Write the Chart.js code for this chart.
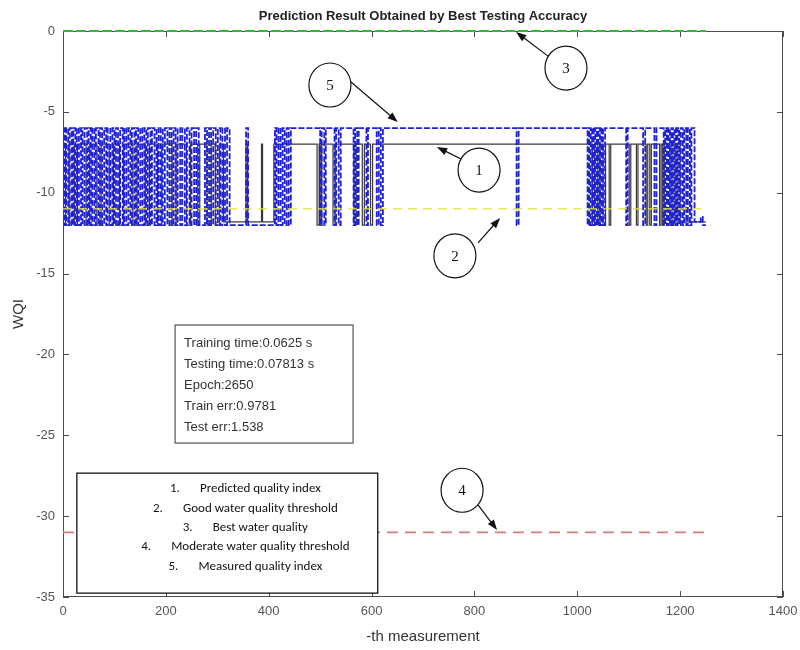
<!DOCTYPE html>
<html>
<head>
<meta charset="utf-8">
<script src="https://cdn.jsdelivr.net/npm/chart.js@4.4.0/dist/chart.umd.min.js"></script>
<style>
html, body { margin: 0; padding: 0; background: #fff; }
#wrap { width: 800px; height: 650px; }
</style>
</head>
<body>
<div id="wrap"><canvas id="wqiChart" width="800" height="650"></canvas></div>
<script>
// Measured quality index: x where the value changes, and the value from there on
const measuredX = [
    0, 3, 6, 10, 13, 17, 20, 24, 27, 31, 35, 38, 42, 47, 50, 54, 57, 61, 64, 69,
    72, 76, 80, 84, 87, 92, 96, 100, 103, 107, 111, 116, 119, 123, 127, 131, 134, 139, 142, 146,
    150, 154, 158, 162, 165, 170, 173, 178, 182, 186, 190, 194, 198, 203, 207, 211, 215, 219, 223, 228,
    232, 237, 241, 246, 250, 255, 259, 264, 276, 280, 284, 288, 292, 297, 301, 306, 310, 315, 319, 324,
    356, 360, 412, 415, 419, 423, 427, 431, 435, 439, 443, 500, 503, 508, 511, 528, 531, 536, 540, 565,
    568, 572, 575, 590, 593, 610, 614, 618, 622, 882, 886, 1020, 1023, 1026, 1029, 1032, 1035, 1038, 1041, 1044,
    1047, 1050, 1054, 1095, 1098, 1128, 1132, 1150, 1154, 1168, 1171, 1174, 1177, 1180, 1183, 1186, 1189, 1192, 1195, 1198,
    1201, 1205, 1208, 1212, 1215, 1219, 1222, 1228, 1240, 1244, 1250
];
const measuredY = [
    -6, -12, -6, -12, -6, -12, -6, -12, -6, -12, -6, -12, -6, -12, -6, -12, -6, -12, -6, -12,
    -6, -12, -6, -12, -6, -12, -6, -12, -6, -12, -6, -12, -6, -12, -6, -12, -6, -12, -6, -12,
    -6, -12, -6, -12, -6, -12, -6, -12, -6, -12, -6, -12, -6, -12, -6, -12, -6, -12, -6, -12,
    -6, -12, -6, -12, -6, -12, -6, -12, -6, -12, -6, -12, -6, -12, -6, -12, -6, -12, -6, -12,
    -6, -12, -6, -12, -6, -12, -6, -12, -6, -12, -6, -12, -6, -12, -6, -12, -6, -12, -6, -12,
    -6, -12, -6, -12, -6, -12, -6, -12, -6, -12, -6, -12, -6, -12, -6, -12, -6, -12, -6, -12,
    -6, -12, -6, -12, -6, -12, -6, -12, -6, -12, -6, -12, -6, -12, -6, -12, -6, -12, -6, -12,
    -6, -12, -6, -12, -6, -12, -6, -11.8, -11.5, -12, -12
];

// Predicted quality index
const predictedX = [
    0, 5, 12, 22, 28, 45, 52, 66, 74, 90, 98, 110, 118, 136, 144, 160, 168, 184, 192, 212,
    220, 240, 248, 262, 266, 280, 288, 296, 304, 312, 356, 359, 386, 388, 410, 494, 498, 500, 503, 525,
    529, 566, 570, 582, 586, 598, 602, 1030, 1034, 1040, 1044, 1050, 1055, 1062, 1065, 1101, 1104, 1115, 1118, 1134,
    1137, 1141, 1144, 1160, 1163, 1166, 1169, 1180, 1184, 1190, 1194, 1200, 1250
];
const predictedY = [
    -7, -12, -7, -12, -7, -12, -7, -12, -7, -12, -7, -12, -7, -12, -7, -12, -7, -12, -7, -12,
    -7, -12, -7, -12, -7, -12, -7, -12, -7, -11.8, -7, -11.8, -7, -11.8, -7, -12, -7, -12, -7, -12,
    -7, -12, -7, -12, -7, -12, -7, -12, -7, -12, -7, -12, -7, -12, -7, -12, -7, -12, -7, -12,
    -7, -12, -7, -12, -7, -12, -7, -12, -7, -12, -7, -11.8, -11.8
];

// Threshold lines
const thresholdX = [0, 1250];
const bestY = [0, 0];
const goodY = [-11, -11];
const moderateY = [-31, -31];

// Axis ticks
const xTicks = [0, 200, 400, 600, 800, 1000, 1200, 1400];
const yTicks = [0, -5, -10, -15, -20, -25, -30, -35];

const infoLines = [
    'Training time:0.0625 s',
    'Testing time:0.07813 s',
    'Epoch:2650',
    'Train err:0.9781',
    'Test err:1.538'
];
const legendNums = ['1.', '2.', '3.', '4.', '5.'];
const legendTexts = [
    'Predicted quality index',
    'Good water quality threshold',
    'Best water quality',
    'Moderate water quality threshold',
    'Measured quality index'
];

// numbered callouts: circle centre, arrow start, arrow tip (data units)
const calloutLabels = ['5', '3', '1', '2', '4'];
const calloutX = [519, 978, 809, 762, 776];
const calloutY = [-3.34, -2.29, -8.6, -13.9, -28.4];
const arrowFromX = [544, 945, 778, 807, 807];
const arrowFromY = [-2.72, -1.6, -7.98, -13.1, -29.3];
const arrowToX = [651, 881, 727, 850, 844];
const arrowToY = [-5.63, -0.06, -7.17, -11.56, -30.86];

function toPoints(xs, ys) {
    return xs.map((x, i) => ({ x: x, y: ys[i] }));
}

const SANS = '"Liberation Sans", Arial, sans-serif';

function drawArrow(ctx, x0, y0, x1, y1) {
    const ang = Math.atan2(y1 - y0, x1 - x0);
    const head = 11;
    ctx.beginPath();
    ctx.moveTo(x0, y0);
    ctx.lineTo(x1 - Math.cos(ang) * head * 0.8, y1 - Math.sin(ang) * head * 0.8);
    ctx.stroke();
    ctx.beginPath();
    ctx.moveTo(x1, y1);
    ctx.lineTo(x1 - head * Math.cos(ang - 0.35), y1 - head * Math.sin(ang - 0.35));
    ctx.lineTo(x1 - head * Math.cos(ang + 0.35), y1 - head * Math.sin(ang + 0.35));
    ctx.closePath();
    ctx.fill();
}

const decorPlugin = {
    id: 'decor',
    beforeDatasetsDraw(chart) {
        // box round the axes, ticks pointing in
        const ctx = chart.ctx;
        const area = chart.chartArea;
        const X = v => chart.scales.x.getPixelForValue(v);
        const Y = v => chart.scales.y.getPixelForValue(v);
        ctx.save();
        ctx.strokeStyle = '#4d4d4d';
        ctx.lineWidth = 1;
        ctx.strokeRect(area.left + 0.5, area.top + 0.5, area.right - area.left - 1, area.bottom - area.top - 1);
        ctx.beginPath();
        xTicks.forEach(t => {
            const x = Math.round(X(t)) + 0.5;
            ctx.moveTo(x, area.bottom); ctx.lineTo(x, area.bottom - 6);
            ctx.moveTo(x, area.top); ctx.lineTo(x, area.top + 6);
        });
        yTicks.forEach(t => {
            const y = Math.round(Y(t)) + 0.5;
            ctx.moveTo(area.left, y); ctx.lineTo(area.left + 6, y);
            ctx.moveTo(area.right, y); ctx.lineTo(area.right - 6, y);
        });
        ctx.stroke();
        ctx.restore();
    },
    afterDraw(chart) {
        const ctx = chart.ctx;
        const area = chart.chartArea;
        const X = v => chart.scales.x.getPixelForValue(v);
        const Y = v => chart.scales.y.getPixelForValue(v);

        ctx.save();
        ctx.setLineDash([]);
        // title
        ctx.fillStyle = '#222';
        ctx.font = 'bold 13px ' + SANS;
        ctx.textAlign = 'center';
        ctx.textBaseline = 'middle';
        ctx.fillText('Prediction Result Obtained by Best Testing Accuracy', (area.left + area.right) / 2, 16);

        // info box
        const bx0 = X(218), by0 = Y(-18.18), bx1 = X(564), by1 = Y(-25.48);
        ctx.fillStyle = '#fff';
        ctx.fillRect(bx0, by0, bx1 - bx0, by1 - by0);
        ctx.strokeStyle = '#555';
        ctx.lineWidth = 1.2;
        ctx.strokeRect(bx0, by0, bx1 - bx0, by1 - by0);
        ctx.fillStyle = '#333';
        ctx.font = '13px ' + SANS;
        ctx.textAlign = 'left';
        infoLines.forEach((s, i) => ctx.fillText(s, bx0 + 9, by0 + 18 + i * 21.2));

        // legend box
        const lx0 = X(27), ly0 = Y(-27.34), lx1 = X(612), ly1 = Y(-34.76);
        ctx.fillStyle = '#fff';
        ctx.fillRect(lx0, ly0, lx1 - lx0, ly1 - ly0);
        ctx.strokeStyle = '#000';
        ctx.lineWidth = 1.2;
        ctx.strokeRect(lx0, ly0, lx1 - lx0, ly1 - ly0);
        ctx.fillStyle = '#111';
        ctx.font = '13px Carlito, Lato, "Open Sans", sans-serif';
        const cx = lx0 + (lx1 - lx0) * 0.56;
        legendTexts.forEach((s, i) => {
            const gap = 30;
            const total = gap + ctx.measureText(s).width;
            const start = cx - total / 2;
            ctx.textAlign = 'left';
            ctx.fillText(legendNums[i], start, ly0 + 16 + i * 19.3);
            ctx.fillText(s, start + gap, ly0 + 16 + i * 19.3);
        });

        // callouts
        ctx.strokeStyle = '#111';
        calloutLabels.forEach((lab, i) => {
            ctx.lineWidth = 1.2;
            ctx.fillStyle = '#111';
            drawArrow(ctx, X(arrowFromX[i]), Y(arrowFromY[i]), X(arrowToX[i]), Y(arrowToY[i]));
            const ccx = X(calloutX[i]), ccy = Y(calloutY[i]);
            ctx.beginPath();
            ctx.ellipse(ccx, ccy, 21, 22, 0, 0, Math.PI * 2);
            ctx.fillStyle = '#fff';
            ctx.fill();
            ctx.stroke();
            ctx.fillStyle = '#111';
            ctx.font = '15px "Liberation Serif", "Times New Roman", serif';
            ctx.textAlign = 'center';
            ctx.fillText(lab, ccx, ccy + 1);
        });
        ctx.restore();
    }
};

const ctx = document.getElementById('wqiChart').getContext('2d');
const wqiChart = new Chart(ctx, {
    type: 'line',
    data: {
        datasets: [
            {
                label: 'Measured quality index',
                data: toPoints(measuredX, measuredY),
                borderColor: '#2020d4',
                borderWidth: 1.8,
                borderDash: [6, 2],
                stepped: true,
                pointRadius: 0,
                order: 3
            },
            {
                label: 'Predicted quality index',
                data: toPoints(predictedX, predictedY),
                borderColor: '#3a3a3a',
                borderWidth: 1.2,
                stepped: true,
                pointRadius: 0,
                order: 4
            },
            {
                label: 'Best water quality',
                data: toPoints(thresholdX, bestY),
                borderColor: '#2ebd2e',
                borderWidth: 1.8,
                borderDash: [10, 3],
                pointRadius: 0,
                clip: false,
                order: 0
            },
            {
                label: 'Good water quality threshold',
                data: toPoints(thresholdX, goodY),
                borderColor: '#e3e33a',
                borderWidth: 1.4,
                borderDash: [9, 6],
                pointRadius: 0,
                order: 1
            },
            {
                label: 'Moderate water quality threshold',
                data: toPoints(thresholdX, moderateY),
                borderColor: '#e07a7a',
                borderWidth: 1.8,
                borderDash: [11, 7],
                pointRadius: 0,
                order: 2
            }
        ]
    },
    options: {
        responsive: false,
        animation: false,
        events: [],
        layout: { padding: { top: 31, right: 17, left: 0, bottom: 0 } },
        plugins: {
            legend: { display: false },
            tooltip: { enabled: false },
            title: { display: false }
        },
        scales: {
            x: {
                type: 'linear',
                min: 0,
                max: 1400,
                afterBuildTicks: scale => { scale.ticks = xTicks.map(v => ({ value: v })); },
                ticks: {
                    color: '#555', font: { size: 13, family: SANS }, padding: 7, maxRotation: 0,
                    callback: v => String(v)
                },
                grid: { display: false, drawTicks: false },
                border: { display: false },
                title: { display: true, text: '-th measurement', color: '#333', font: { size: 15, family: SANS }, padding: { top: 2 } },
                afterFit: scale => {
                    scale.height = 53;
                    scale.paddingLeft = 0;
                    scale.paddingRight = 0;
                }
            },
            y: {
                type: 'linear',
                min: -35,
                max: 0,
                afterBuildTicks: scale => { scale.ticks = yTicks.map(v => ({ value: v })); },
                ticks: { color: '#555', font: { size: 13, family: SANS }, padding: 8, callback: v => String(v) },
                grid: { display: false, drawTicks: false },
                border: { display: false },
                title: { display: true, text: 'WQI', color: '#333', font: { size: 15, family: SANS }, padding: { top: 10, bottom: 2 } },
                afterFit: scale => {
                    scale.width = 63;
                    scale.paddingTop = 0;
                    scale.paddingBottom = 0;
                }
            }
        }
    },
    plugins: [decorPlugin]
});
</script>
</body>
</html>
